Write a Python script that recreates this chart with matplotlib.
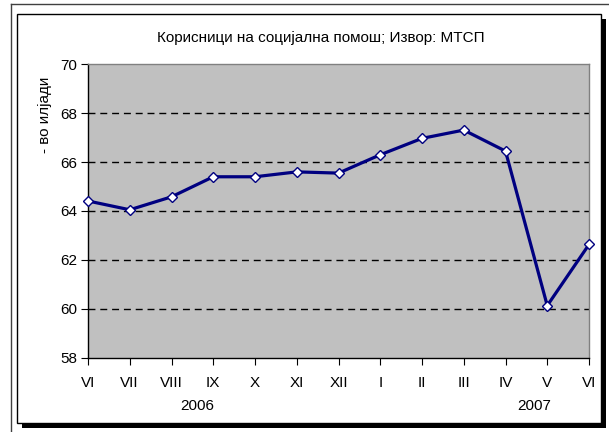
import matplotlib
matplotlib.use("Agg")
import matplotlib.pyplot as plt
from matplotlib.patches import Rectangle
from matplotlib.lines import Line2D
import matplotlib.transforms as mtransforms

plt.rcParams['font.family'] = ['Liberation Sans', 'DejaVu Sans']

months = ["VI", "VII", "VIII", "IX", "X", "XI", "XII", "I", "II", "III", "IV", "V", "VI"]
values = [64.41, 64.05, 64.58, 65.4, 65.4, 65.6, 65.55, 66.3, 66.97, 67.31, 66.45, 60.13, 62.63]
years = ["2006", "2007"]
year_pos = [2.62, 10.68]
yticks = [58, 60, 62, 64, 66, 68, 70]
title = "Корисници на социјална помош; Извор: МТСП"
ylabel = "- во илјади"

W, H = 609, 432
fig = plt.figure(figsize=(W / 100, H / 100), dpi=100)
fig.patch.set_facecolor("white")

def px_rect(x0, y0, x1, y1, **kw):
    return Rectangle((x0 / W, 1 - y1 / H), (x1 - x0) / W, (y1 - y0) / H,
                     transform=fig.transFigure, **kw)

# outer frame line (extends beyond image)
fig.add_artist(Line2D([11 / W, 11 / W], [0, 1 - 4 / H], transform=fig.transFigure,
                      color="#404040", lw=1.0, zorder=-3))
fig.add_artist(Line2D([11 / W, 1], [1 - 4 / H, 1 - 4 / H], transform=fig.transFigure,
                      color="#404040", lw=1.0, zorder=-3))
# shadow
fig.add_artist(px_rect(22, 19, 606, 428, facecolor="black", edgecolor="none", zorder=-2))
# inner box
fig.add_artist(px_rect(17, 14, 601, 423, facecolor="white", edgecolor="black", lw=1.0, zorder=-1))

ax = fig.add_axes([88 / W, 1 - 357.7 / H, (589 - 88) / W, (357.7 - 64.3) / H])
ax.set_zorder(2)
ax.set_facecolor("#C0C0C0")
x = list(range(len(months)))
ax.plot(x, values, color="#000080", lw=2.3, marker="D", markersize=5.5,
        markerfacecolor="white", markeredgecolor="#000080", markeredgewidth=1.0,
        zorder=5, clip_on=False)
ax.set_xlim(0, len(months) - 1)
ax.set_ylim(58, 70)
ax.set_yticks(yticks)
ax.set_yticklabels([str(v) for v in yticks], fontsize=11)
ax.set_xticks(x)
ax.set_xticklabels(months, fontsize=11)
for v in yticks[1:-1]:
    ax.axhline(v, color="black", lw=1.0, dashes=(5, 3.5), zorder=1)
ax.tick_params(axis="y", direction="out", length=5, width=0.8, pad=3)
ax.tick_params(axis="x", direction="out", length=5, width=0.8, pad=8)
for s in ["left", "bottom"]:
    ax.spines[s].set_color("black")
    ax.spines[s].set_linewidth(1.0)
for s in ["top", "right"]:
    ax.spines[s].set_color("#808080")
    ax.spines[s].set_linewidth(1.0)

trans = mtransforms.blended_transform_factory(ax.transData, fig.transFigure)
for yr, p in zip(years, year_pos):
    ax.text(p, 1 - 406 / H, yr, transform=trans, ha="center", va="center", fontsize=11)

fig.text(321 / W, 1 - 38 / H, title, ha="center", va="center", fontsize=11)
fig.text(45 / W, 1 - 115 / H, ylabel, ha="center", va="center", rotation=90, fontsize=11)

fig.savefig("out.png", dpi=100)
